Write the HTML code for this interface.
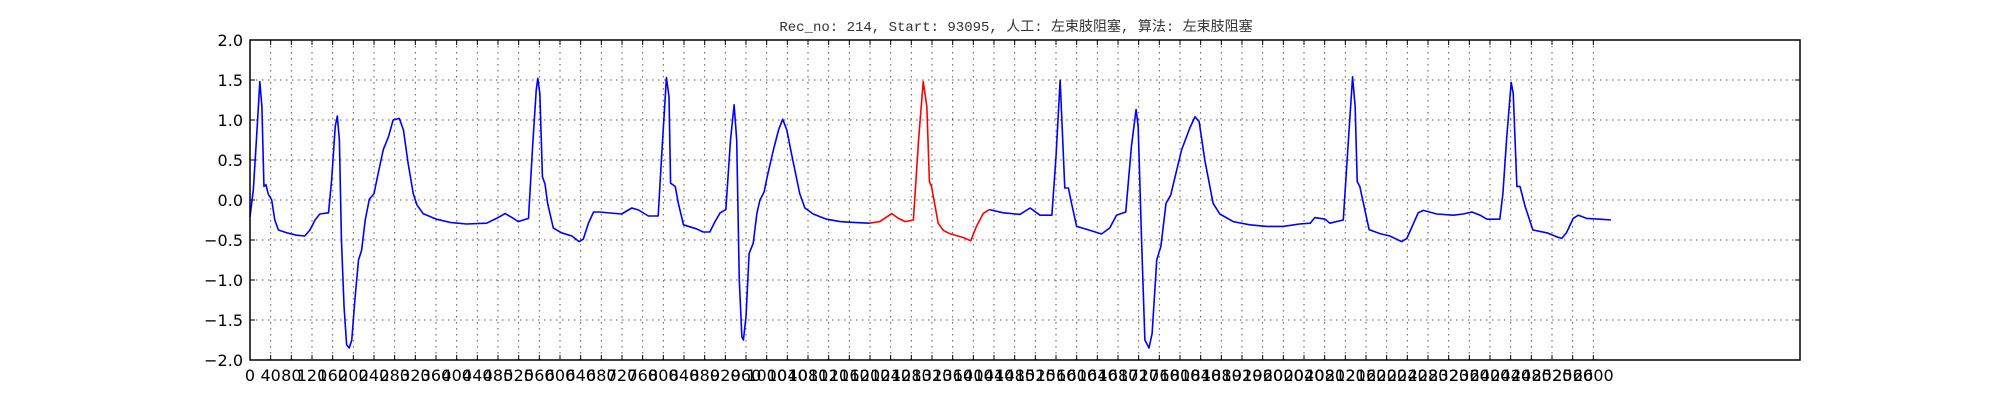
<!DOCTYPE html>
<html><head><meta charset="utf-8"><style>
html,body{margin:0;padding:0;background:#fff;}
svg{display:block;}
</style></head><body>
<svg id="chart" width="2000" height="400" xmlns="http://www.w3.org/2000/svg">
<text x="1016" y="31" text-anchor="middle" font-family="'Liberation Mono','Noto Sans CJK SC',monospace" font-size="14" fill="#333">Rec_no: 214, Start: 93095, 人工: 左束肢阻塞, 算法: 左束肢阻塞</text>
<g id="grid"></g>
<g id="ticks"></g>
<g id="series"></g>
<rect x="250" y="40" width="1550" height="320" fill="none" stroke="#000" stroke-width="1.5"/>
</svg>
<script>
const samples = [0,6.5,14,19,23,27,31,35,42,48,55,71,90,106,116,126,135,152,158,165,169,173,177,182,187,192,197,203,210,216,223,231,240,248,258,268,277,289,297,306,316,323,335,361,387,419,458,477,494,510,519,539,547,554,557,561,566,571,576,587,603,623,637,645,655,665,676,
719,739,752,771,790,797,806,811,814,823,829,839,864,877,890,900,910,921,930,937,942,947,952,955,960,966,974,981,987,995,1001,1013,1023,1031,1039,1048,1064,1074,1090,1116,1142,1168,1199,
1219,1242,1255,1268,1284,1294,1303,1310,1315,1319,1332,1342,1354,1381,1395,1406,1419,1431,
1458,1490,1510,1529,1552,1560,1568,1573,1577,1584,1590,1600,1626,1648,1664,1677,1695,1706,1715,1719,1726,1732,1740,1746,1755,1763,1773,1782,1792,1803,1819,1829,1837,1848,1864,1877,1903,1935,1968,2000,2031,
2052,2061,2081,2090,2116,2126,2134,2139,2143,2148,2155,2166,2187,2206,2229,2239,2248,2261,2271,2297,2329,2348,2365,2381,2394,2419,2425,2432,2441,2445,2452,2458,2468,2483,2510,2529,2539,2548,2561,2571,2587,2613,2634];
const values = [-0.21,0.13,0.92,1.48,1.17,0.17,0.19,0.08,0.0,-0.25,-0.375,-0.41,-0.44,-0.45,-0.375,-0.25,-0.175,-0.16,0.25,0.92,1.05,0.75,-0.5,-1.33,-1.81,-1.85,-1.75,-1.25,-0.75,-0.63,-0.25,0.01,0.08,0.33,0.63,0.79,1.0,1.02,0.875,0.46,0.08,-0.06,-0.17,-0.24,-0.28,-0.30,-0.29,-0.23,-0.17,-0.23,-0.27,-0.23,0.67,1.375,1.52,1.33,0.29,0.2,-0.04,-0.35,-0.41,-0.45,-0.52,-0.49,-0.29,-0.15,-0.15,
-0.175,-0.10,-0.125,-0.2,-0.2,0.58,1.53,1.29,0.21,0.17,-0.04,-0.31,-0.36,-0.40,-0.40,-0.27,-0.16,-0.12,0.75,1.19,0.75,-1.0,-1.71,-1.75,-1.46,-0.67,-0.54,-0.17,0.0,0.10,0.29,0.625,0.875,1.01,0.875,0.58,0.08,-0.1,-0.175,-0.24,-0.27,-0.28,-0.29,
-0.27,-0.17,-0.23,-0.27,-0.25,0.75,1.48,1.17,0.23,0.17,-0.29,-0.38,-0.42,-0.47,-0.51,-0.33,-0.17,-0.12,
-0.16,-0.18,-0.10,-0.19,-0.19,0.54,1.5,0.75,0.15,0.15,-0.04,-0.33,-0.38,-0.425,-0.35,-0.19,-0.15,0.67,1.13,0.92,-0.58,-1.75,-1.85,-1.67,-0.75,-0.58,-0.04,0.06,0.33,0.625,0.90,1.04,0.98,0.5,-0.04,-0.175,-0.27,-0.31,-0.33,-0.33,-0.30,
-0.29,-0.22,-0.24,-0.29,-0.25,0.75,1.54,1.17,0.23,0.17,-0.04,-0.37,-0.42,-0.45,-0.52,-0.48,-0.35,-0.16,-0.13,-0.175,-0.19,-0.175,-0.15,-0.19,-0.24,-0.24,0.08,0.75,1.47,1.33,0.17,0.17,-0.08,-0.375,-0.41,-0.46,-0.48,-0.41,-0.23,-0.19,-0.23,-0.24,-0.25];
const highlightRange = [1199, 1431];
const yTicks = [2.0,1.5,1.0,0.5,0.0,-0.5,-1.0,-1.5,-2.0];
const xTickStep = 40, xTickMax = 2600, xMax = 3000;

const L=250,R=1800,T=40,B=360;
const xs = s => L + s/xMax*(R-L);
const ys = v => T + (2 - v)/4*(B-T);
const NS='http://www.w3.org/2000/svg';
const grid=document.getElementById('grid'), ticks=document.getElementById('ticks'), series=document.getElementById('series');
function mk(tag, attrs, parent){const e=document.createElementNS(NS,tag);for(const k in attrs)e.setAttribute(k,attrs[k]);parent.appendChild(e);return e;}

for(let t=0;t<=xTickMax;t+=xTickStep){
  const x=xs(t);
  const g=mk('line',{x1:x,x2:x,y1:T,y2:B,stroke:'#555','stroke-width':1,'stroke-dasharray':'1.5,4.5'},grid);
  
  
  mk('line',{x1:x,x2:x,y1:B,y2:B-5,stroke:'#000','stroke-width':1},ticks);
  mk('line',{x1:x,x2:x,y1:T,y2:T+5,stroke:'#000','stroke-width':1},ticks);
  const lb=mk('text',{x:x,y:B+21,'text-anchor':'middle','font-family':"'DejaVu Sans','Liberation Sans',sans-serif",'font-size':16,fill:'#000'},ticks);
  lb.textContent=String(t);
  
  
}
yTicks.forEach(v=>{
  const y=ys(v);
  const g=mk('line',{x1:L,x2:R,y1:y,y2:y,stroke:'#555','stroke-width':1,'stroke-dasharray':'1.5,4.5'},grid);
  
  
  mk('line',{x1:L,x2:L+5,y1:y,y2:y,stroke:'#000','stroke-width':1},ticks);
  mk('line',{x1:R,x2:R-5,y1:y,y2:y,stroke:'#000','stroke-width':1},ticks);
  const lb=mk('text',{x:243,y:y+6,'text-anchor':'end','font-family':"'DejaVu Sans','Liberation Sans',sans-serif",'font-size':16,fill:'#000'},ticks);
  lb.textContent=(v<0?'\u2212':'')+Math.abs(v).toFixed(1);
  
  
});

function pathFor(filter){
  let d='';
  samples.forEach((s,i)=>{ if(filter(s)) d+=(d?'L':'M')+xs(s).toFixed(2)+','+ys(values[i]).toFixed(2); });
  return d;
}
const [h0,h1]=highlightRange;
const blue1=mk('path',{d:pathFor(s=>s<=h0),fill:'none',stroke:'#0000ff','stroke-width':1.6,'stroke-linejoin':'round'},series);


const blue2=mk('path',{d:pathFor(s=>s>=h1),fill:'none',stroke:'#0000ff','stroke-width':1.6,'stroke-linejoin':'round'},series);


const red=mk('path',{d:pathFor(s=>s>=h0&&s<=h1),fill:'none',stroke:'#ff0000','stroke-width':1.6,'stroke-linejoin':'round'},series);


</script>
</body></html>
